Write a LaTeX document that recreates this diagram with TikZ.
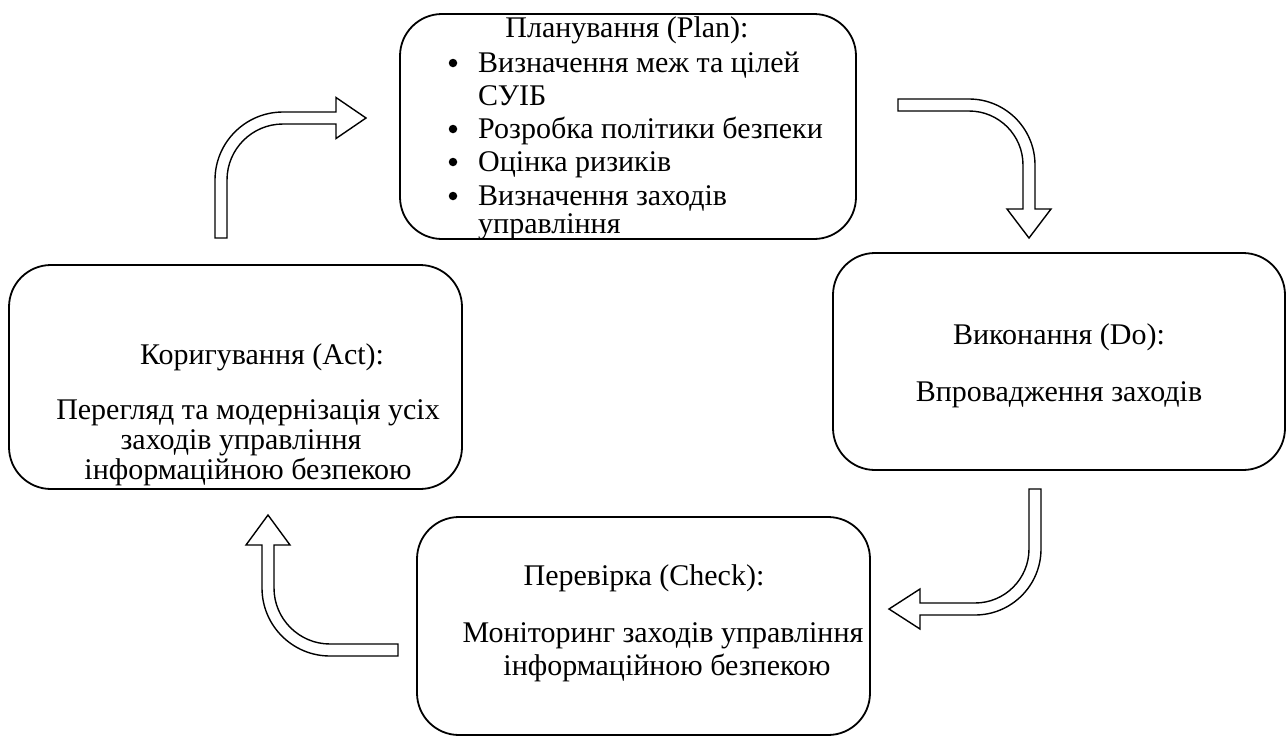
\documentclass[tikz,border=0pt]{standalone}
\usepackage{fontspec}
\setmainfont{Liberation Serif}
\begin{document}
\begin{tikzpicture}[x=1pt,y=-1pt,
  box/.style={draw, line width=1.8pt, rounded corners=42pt, inner sep=0pt},
  txt/.style={font=\fontsize{30}{33}\selectfont, inner sep=0pt, anchor=base},
  ltxt/.style={txt, anchor=base west},
  bul/.style={circle, fill, inner sep=0pt, minimum size=8.5pt},
  blk/.style={draw, line width=1.4pt, fill=white, line join=miter}]
\useasboundingbox (0,0) rectangle (1288,737);

% boxes
\node[box, minimum width=456pt, minimum height=225pt] (plan) at (628,126.5) {};
\node[box, minimum width=452pt, minimum height=217pt] (do) at (1059,361.5) {};
\node[box, minimum width=453pt, minimum height=224pt] (act) at (235.5,377) {};
\node[box, minimum width=453pt, minimum height=218pt] (check) at (643.5,626) {};

% Plan text
\node[txt] (pt) at (627,37) {Планування (Plan):};
\node[bul] (pb1) at (453,63) {};
\node[ltxt] (p1) at (478,72) {Визначення меж та цілей};
\node[ltxt] (p1b) at (478,105) {СУІБ};
\node[bul] (pb2) at (453,129) {};
\node[ltxt] (p2) at (478,138) {Розробка політики безпеки};
\node[bul] (pb3) at (453,162) {};
\node[ltxt] (p3) at (478,171) {Оцінка ризиків};
\node[bul] (pb4) at (453,196) {};
\node[ltxt] (p4) at (478,205) {Визначення заходів};
\node[ltxt] (p4b) at (478,233) {управління};

% Do text
\node[txt] (dt) at (1059,344) {Виконання (Do):};
\node[txt] (d1) at (1059,401) {Впровадження заходів};

% Act text
\node[txt] (at) at (262,364) {Коригування (Act):};
\node[txt] (a1) at (248,419) {Перегляд та модернізація усіх};
\node[txt] (a2) at (241,449) {заходів управління};
\node[txt] (a3) at (248,479) {інформаційною безпекою};

% Check text
\node[txt] (ct) at (644,585) {Перевірка (Check):};
\node[txt] (c1) at (663,642) {Моніторинг заходів управління};
\node[txt] (c2) at (667,675) {інформаційною безпекою};

% block arrows
% Act -> Plan
\draw[blk] (215,238) -- (215,180) arc[start angle=180, end angle=270, radius=68]
  -- (336,112) -- (336,97.5) -- (366,118) -- (336,138.5) -- (336,124) -- (283,124)
  arc[start angle=270, end angle=180, radius=56] -- (227,238) -- cycle;
% Plan -> Do
\draw[blk] (898,99) -- (969,99) arc[start angle=270, end angle=360, radius=66]
  -- (1035,209) -- (1051,209) -- (1029,238) -- (1007,209) -- (1023,209) -- (1023,165)
  arc[start angle=360, end angle=270, radius=54] -- (898,111) -- cycle;
% Do -> Check
\draw[blk] (1029,489) -- (1041,489) -- (1041,549) arc[start angle=0, end angle=90, radius=66]
  -- (920,615) -- (920,629) -- (889,609) -- (920,589) -- (920,603) -- (975,603)
  arc[start angle=90, end angle=0, radius=54] -- cycle;
% Check -> Act
\draw[blk] (398,644) -- (330,644) arc[start angle=90, end angle=180, radius=56]
  -- (274,545) -- (290,545) -- (268,515) -- (246,545) -- (262,545) -- (262,588)
  arc[start angle=180, end angle=90, radius=68] -- (398,656) -- cycle;
\end{tikzpicture}
\end{document}
